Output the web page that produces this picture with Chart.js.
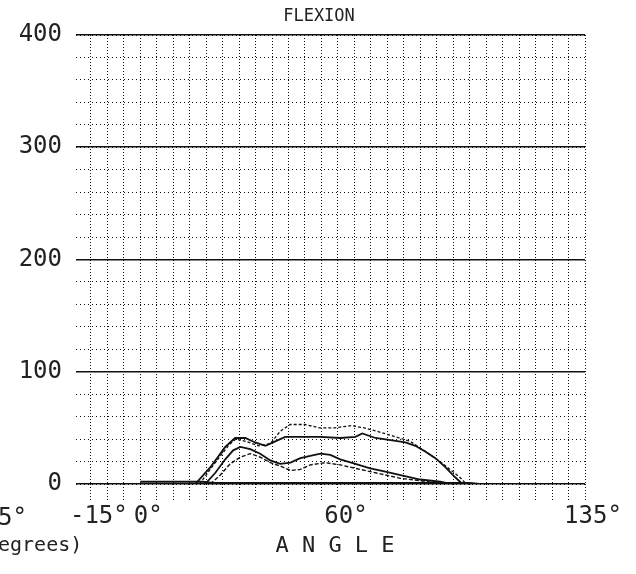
<!DOCTYPE html>
<html>
<head>
<meta charset="utf-8">
<script src="https://cdn.jsdelivr.net/npm/chart.js@4.4.1/dist/chart.umd.min.js"></script>
<style>
  html, body { margin: 0; padding: 0; background: #fff; }
</style>
</head>
<body>
<canvas id="chart" width="636" height="574"></canvas>
<script>
// curves: angle in degrees, torque-ish value
const angleA = [18, 23, 27, 29, 32, 36, 39.5, 42.5, 45.5, 50, 54.5, 59, 64, 68, 73, 77.5, 82, 85, 88, 91, 94, 97, 99];
const flexA  = [0, 20, 35, 40, 38, 34, 36, 47, 53, 53, 50, 50, 52, 50, 46, 42, 38, 32, 26, 20, 13, 6, 0];

const angleB = [16.7, 21.3, 25.8, 28.8, 31.9, 34.9, 38, 41, 44, 48.6, 54.7, 60.7, 65.3, 67.4, 71.4, 76, 80.5, 83.5, 86.5, 89.6, 92.6, 95.6, 97.8];
const flexB  = [0, 15, 33, 41, 41, 37, 34, 38, 42, 42, 42, 41, 42, 45, 41, 39, 37, 34, 29, 23, 15, 6, 0];

const angleC = [19.7, 22.8, 25.8, 28.2, 30.4, 33.4, 36.4, 39.5, 42.5, 45.6, 48.6, 51.6, 54.7, 57.7, 60.7, 65.3, 69.8, 74.4, 79, 85, 91.1, 94.1];
const flexC  = [0, 10, 22, 30, 33, 31, 27, 21, 18, 19, 23, 25, 27, 26, 22, 18, 14, 11, 8, 4, 2, 0];

const angleD = [21.3, 24.3, 27.3, 30.4, 33.4, 36.4, 39.5, 42.5, 45.6, 48.6, 51.6, 56.2, 60.7, 66.8, 72.9, 79, 85, 89.6, 92];
const flexD  = [0, 8, 18, 24, 27, 24, 19, 16, 12, 13, 17, 19, 17, 13, 9, 5, 3, 1, 0];

const angleE = [0, 19, 22, 100, 103];
const flexE  = [2, 2, 1, 1, 0];

const xTickLabels = { '-15': '-15°', '0': '0°', '60': '60°', '135': '135°' };
const yTicks = [0, 100, 200, 300, 400];

const ink = '#111';
const mono = 'DejaVu Sans Mono';

function pts(xs, ys) { return xs.map((x, i) => ({ x, y: ys[i] })); }

function line(xs, ys, dash, width) {
  return {
    data: pts(xs, ys),
    borderColor: ink,
    borderWidth: width,
    borderDash: dash,
    pointRadius: 0,
    tension: 0,
    fill: false
  };
}

// text that sits outside the axes (title, axis name, clipped neighbour labels)
const extraText = {
  id: 'extraText',
  afterDraw(chart) {
    const ctx = chart.ctx;
    ctx.save();
    ctx.fillStyle = '#222';
    ctx.textBaseline = 'middle';
    ctx.textAlign = 'center';
    ctx.font = '17px "' + mono + '"';
    ctx.fillText('FLEXION', 319, 17);
    ctx.font = '22px "' + mono + '"';
    ctx.fillText('A N G L E', 335, 546);
    ctx.textAlign = 'left';
    ctx.font = '20px "' + mono + '"';
    ctx.fillText('egrees)', -2, 546);
    ctx.font = '24px "' + mono + '"';
    ctx.fillText('5°', -2, 519);
    ctx.restore();
  }
};

new Chart(document.getElementById('chart'), {
  type: 'line',
  data: {
    datasets: [
      line(angleA, flexA, [3, 2], 1.3),
      line(angleB, flexB, [], 1.8),
      line(angleC, flexC, [], 1.8),
      line(angleD, flexD, [4, 2], 1.4),
      line(angleE, flexE, [], 2)
    ]
  },
  options: {
    responsive: false,
    animation: false,
    layout: { padding: { top: 35, right: 51, left: 0, bottom: 0 } },
    plugins: { legend: { display: false }, tooltip: { enabled: false } },
    scales: {
      x: {
        type: 'linear',
        min: -19.5,
        max: 135,
        afterBuildTicks: (s) => {
          const t = [];
          for (let v = -15; v <= 135; v += 5) t.push({ value: v });
          s.ticks = t;
        },
        afterFit: (s) => { s.height = 90; },
        border: { display: false, dash: [1, 2] },
        grid: {
          color: ink,
          lineWidth: 1,
          drawTicks: true,
          tickLength: 16,
          tickColor: ink,
          tickBorderDash: [1, 2]
        },
        ticks: {
          autoSkip: false,
          maxRotation: 0,
          padding: 2,
          labelOffset: 8,
          color: '#222',
          font: { family: mono, size: 24 },
          callback: (v) => xTickLabels[String(v)] || ''
        }
      },
      y: {
        min: 0,
        max: 400,
        position: 'left',
        afterBuildTicks: (s) => { s.ticks = yTicks.map(v => ({ value: v })); },
        afterFit: (s) => { s.width = 76; },
        border: { display: false },
        grid: { color: ink, lineWidth: 1.6, drawTicks: false },
        ticks: {
          padding: 14,
          color: '#222',
          font: { family: mono, size: 24 }
        }
      },
      yMinor: {
        min: 0,
        max: 400,
        position: 'left',
        ticks: { display: false, stepSize: 20 },
        afterFit: (s) => { s.width = 0; },
        border: { display: false, dash: [1, 3] },
        grid: { color: ink, lineWidth: 1, drawTicks: false }
      }
    }
  },
  plugins: [extraText]
});
</script>
</body>
</html>
